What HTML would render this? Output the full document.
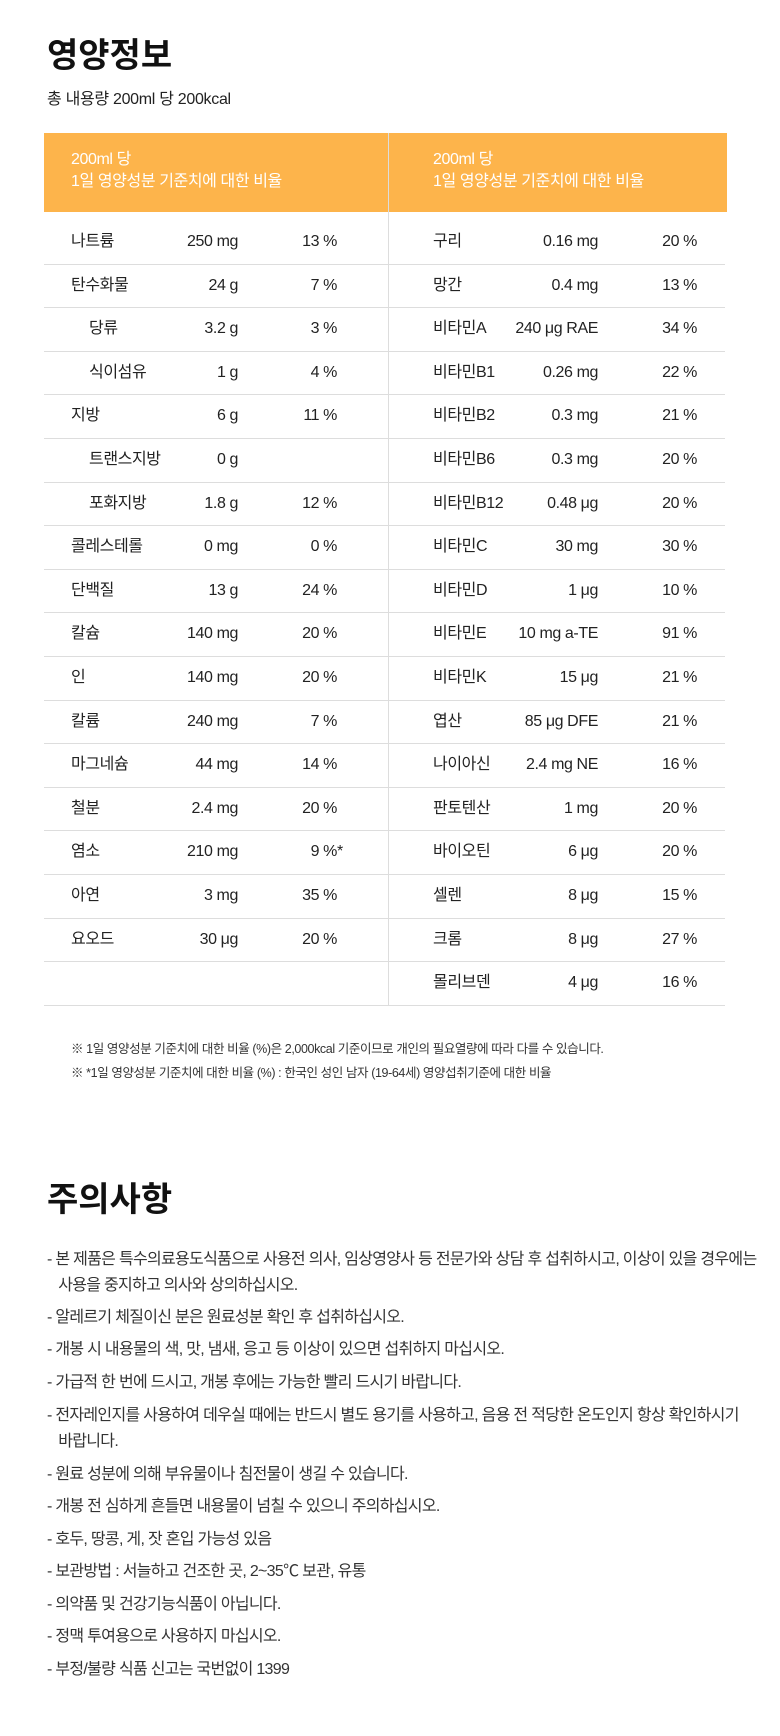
<!DOCTYPE html>
<html><head><meta charset="utf-8"><style>
body{margin:0;width:780px;height:1736px;background:#fff;position:relative;font-family:"Liberation Sans","Noto Sans CJK KR",sans-serif;color:#222;overflow:hidden}
.a{position:absolute;white-space:nowrap}
h1{position:absolute;margin:0;font-size:34px;font-weight:bold;left:47px;color:#111}
.hd{position:absolute;left:44px;top:133px;width:683px;height:79px;background:#FDB44B}
.ht{position:absolute;color:#fff;font-size:16px;line-height:22px;top:149px;letter-spacing:-0.4px}
.vl{position:absolute;left:388px;top:133px;width:1px;height:872px;background:#ddd}
.row{position:absolute;left:44px;width:681px;height:43.6px;border-bottom:1px solid #ddd;font-size:16px}
.row span{position:absolute;top:12px;line-height:20px;white-space:nowrap;letter-spacing:-0.4px}
.n{left:27px}.i{left:45px}
.m1{right:calc(681px - 194px)}
.p1{right:calc(681px - 293px)}
.n2{left:389px}
.m2{right:calc(681px - 554px)}
.p2{right:calc(681px - 653px)}
.fn{font-size:12.5px;left:71px;color:#333;letter-spacing:-0.4px}
.li{position:absolute;left:47px;font-size:16px;line-height:26px;color:#333;white-space:nowrap;letter-spacing:-0.7px}
</style></head><body>
<h1 style="top:28px">영양정보</h1>
<div class="a" style="left:47px;top:85px;font-size:16px;letter-spacing:-0.3px">총 내용량 200ml 당 200kcal</div>
<div class="hd"></div>
<div class="ht" style="left:71px">200ml 당<br>1일 영양성분 기준치에 대한 비율</div>
<div class="ht" style="left:433px">200ml 당<br>1일 영양성분 기준치에 대한 비율</div>

<div class="row" style="top:220px"><span class="n">나트륨</span><span class="m1">250 mg</span><span class="p1">13 %</span><span class="n2">구리</span><span class="m2">0.16 mg</span><span class="p2">20 %</span></div>
<div class="row" style="top:263.6px"><span class="n">탄수화물</span><span class="m1">24 g</span><span class="p1">7 %</span><span class="n2">망간</span><span class="m2">0.4 mg</span><span class="p2">13 %</span></div>
<div class="row" style="top:307.2px"><span class="i">당류</span><span class="m1">3.2 g</span><span class="p1">3 %</span><span class="n2">비타민A</span><span class="m2">240 μg RAE</span><span class="p2">34 %</span></div>
<div class="row" style="top:350.8px"><span class="i">식이섬유</span><span class="m1">1 g</span><span class="p1">4 %</span><span class="n2">비타민B1</span><span class="m2">0.26 mg</span><span class="p2">22 %</span></div>
<div class="row" style="top:394.4px"><span class="n">지방</span><span class="m1">6 g</span><span class="p1">11 %</span><span class="n2">비타민B2</span><span class="m2">0.3 mg</span><span class="p2">21 %</span></div>
<div class="row" style="top:438px"><span class="i">트랜스지방</span><span class="m1">0 g</span><span class="n2">비타민B6</span><span class="m2">0.3 mg</span><span class="p2">20 %</span></div>
<div class="row" style="top:481.6px"><span class="i">포화지방</span><span class="m1">1.8 g</span><span class="p1">12 %</span><span class="n2">비타민B12</span><span class="m2">0.48 μg</span><span class="p2">20 %</span></div>
<div class="row" style="top:525.2px"><span class="n">콜레스테롤</span><span class="m1">0 mg</span><span class="p1">0 %</span><span class="n2">비타민C</span><span class="m2">30 mg</span><span class="p2">30 %</span></div>
<div class="row" style="top:568.8px"><span class="n">단백질</span><span class="m1">13 g</span><span class="p1">24 %</span><span class="n2">비타민D</span><span class="m2">1 μg</span><span class="p2">10 %</span></div>
<div class="row" style="top:612.4px"><span class="n">칼슘</span><span class="m1">140 mg</span><span class="p1">20 %</span><span class="n2">비타민E</span><span class="m2">10 mg a-TE</span><span class="p2">91 %</span></div>
<div class="row" style="top:656px"><span class="n">인</span><span class="m1">140 mg</span><span class="p1">20 %</span><span class="n2">비타민K</span><span class="m2">15 μg</span><span class="p2">21 %</span></div>
<div class="row" style="top:699.6px"><span class="n">칼륨</span><span class="m1">240 mg</span><span class="p1">7 %</span><span class="n2">엽산</span><span class="m2">85 μg DFE</span><span class="p2">21 %</span></div>
<div class="row" style="top:743.2px"><span class="n">마그네슘</span><span class="m1">44 mg</span><span class="p1">14 %</span><span class="n2">나이아신</span><span class="m2">2.4 mg NE</span><span class="p2">16 %</span></div>
<div class="row" style="top:786.8px"><span class="n">철분</span><span class="m1">2.4 mg</span><span class="p1">20 %</span><span class="n2">판토텐산</span><span class="m2">1 mg</span><span class="p2">20 %</span></div>
<div class="row" style="top:830.4px"><span class="n">염소</span><span class="m1">210 mg</span><span class="p1">9 %<b style="position:absolute;font-weight:normal">*</b></span><span class="n2">바이오틴</span><span class="m2">6 μg</span><span class="p2">20 %</span></div>
<div class="row" style="top:874px"><span class="n">아연</span><span class="m1">3 mg</span><span class="p1">35 %</span><span class="n2">셀렌</span><span class="m2">8 μg</span><span class="p2">15 %</span></div>
<div class="row" style="top:917.6px"><span class="n">요오드</span><span class="m1">30 μg</span><span class="p1">20 %</span><span class="n2">크롬</span><span class="m2">8 μg</span><span class="p2">27 %</span></div>
<div class="row" style="top:961.2px"><span class="n2">몰리브덴</span><span class="m2">4 μg</span><span class="p2">16 %</span></div>
<div class="vl"></div>

<div class="a fn" style="top:1038px">※ 1일 영양성분 기준치에 대한 비율 (%)은 2,000kcal 기준이므로 개인의 필요열량에 따라 다를 수 있습니다.</div>
<div class="a fn" style="top:1062px">※ *1일 영양성분 기준치에 대한 비율 (%) : 한국인 성인 남자 (19-64세) 영양섭취기준에 대한 비율</div>

<h1 style="top:1172px">주의사항</h1>
<div class="li" style="top:1247px">- 본 제품은 특수의료용도식품으로 사용전 의사, 임상영양사 등 전문가와 상담 후 섭취하시고, 이상이 있을 경우에는<br>&nbsp;&nbsp;&nbsp;사용을 중지하고 의사와 상의하십시오.</div>
<div class="li" style="top:1305px">- 알레르기 체질이신 분은 원료성분 확인 후 섭취하십시오.</div>
<div class="li" style="top:1337px">- 개봉 시 내용물의 색, 맛, 냄새, 응고 등 이상이 있으면 섭취하지 마십시오.</div>
<div class="li" style="top:1370px">- 가급적 한 번에 드시고, 개봉 후에는 가능한 빨리 드시기 바랍니다.</div>
<div class="li" style="top:1403px">- 전자레인지를 사용하여 데우실 때에는 반드시 별도 용기를 사용하고, 음용 전 적당한 온도인지 항상 확인하시기<br>&nbsp;&nbsp;&nbsp;바랍니다.</div>
<div class="li" style="top:1462px">- 원료 성분에 의해 부유물이나 침전물이 생길 수 있습니다.</div>
<div class="li" style="top:1494px">- 개봉 전 심하게 흔들면 내용물이 넘칠 수 있으니 주의하십시오.</div>
<div class="li" style="top:1527px">- 호두, 땅콩, 게, 잣 혼입 가능성 있음</div>
<div class="li" style="top:1559px">- 보관방법 : 서늘하고 건조한 곳, 2~35℃ 보관, 유통</div>
<div class="li" style="top:1592px">- 의약품 및 건강기능식품이 아닙니다.</div>
<div class="li" style="top:1624px">- 정맥 투여용으로 사용하지 마십시오.</div>
<div class="li" style="top:1657px">- 부정/불량 식품 신고는 국번없이 1399</div>
</body></html>
